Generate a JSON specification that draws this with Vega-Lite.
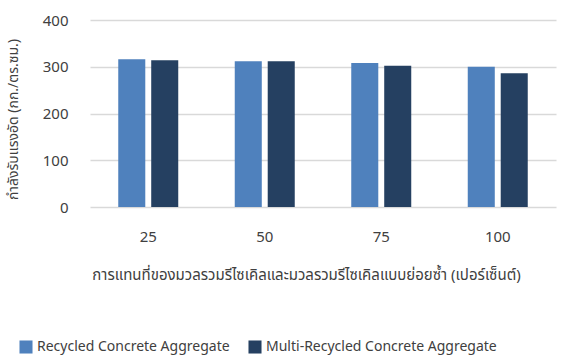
{
  "$schema": "https://vega.github.io/schema/vega-lite/v6.json",
  "width": 466,
  "height": 187,
  "autosize": {"type": "none"},
  "padding": {"left": 90, "top": 20, "right": 9, "bottom": 149},
  "background": "white",
  "config": {
    "view": {"stroke": null},
    "font": "Noto Sans, Noto Sans Thai, sans-serif"
  },
  "data": {
    "values": [
      {"replacement": "25", "series": "Recycled Concrete Aggregate", "strength": 316},
      {"replacement": "25", "series": "Multi-Recycled Concrete Aggregate", "strength": 314},
      {"replacement": "50", "series": "Recycled Concrete Aggregate", "strength": 312},
      {"replacement": "50", "series": "Multi-Recycled Concrete Aggregate", "strength": 312},
      {"replacement": "75", "series": "Recycled Concrete Aggregate", "strength": 308},
      {"replacement": "75", "series": "Multi-Recycled Concrete Aggregate", "strength": 302},
      {"replacement": "100", "series": "Recycled Concrete Aggregate", "strength": 300},
      {"replacement": "100", "series": "Multi-Recycled Concrete Aggregate", "strength": 286}
    ]
  },
  "mark": {"type": "bar"},
  "encoding": {
    "x": {
      "field": "replacement",
      "type": "ordinal",
      "sort": ["25", "50", "75", "100"],
      "scale": {"paddingInner": 0.485, "paddingOuter": 0.2425},
      "axis": {
        "title": "การแทนที่ของมวลรวมรีไซเคิลและมวลรวมรีไซเคิลแบบย่อยซ้ำ (เปอร์เซ็นต์)",
        "titleFontSize": 15,
        "titleFontWeight": "normal",
        "titleColor": "#404040",
        "titlePadding": 23,
        "titleX": 216,
        "labelAngle": 0,
        "labelFontSize": 15,
        "labelColor": "#404040",
        "labelPadding": 22,
        "ticks": false,
        "domain": false,
        "grid": false
      }
    },
    "xOffset": {
      "field": "series",
      "type": "nominal",
      "sort": ["Recycled Concrete Aggregate", "Multi-Recycled Concrete Aggregate"],
      "scale": {"paddingInner": 0.18, "paddingOuter": 0}
    },
    "y": {
      "field": "strength",
      "type": "quantitative",
      "scale": {"domain": [0, 400]},
      "axis": {
        "title": "กำลังรับแรงอัด (กก./ตร.ซม.)",
        "titleFontSize": 14,
        "titleFontWeight": "normal",
        "titleColor": "#404040",
        "titlePadding": 22,
        "titleY": 99,
        "values": [0, 100, 200, 300, 400],
        "labelFontSize": 15,
        "labelColor": "#404040",
        "labelPadding": 22,
        "ticks": false,
        "domain": false,
        "gridColor": "#d9d9d9",
        "gridWidth": 1.5
      }
    },
    "color": {
      "field": "series",
      "type": "nominal",
      "sort": ["Recycled Concrete Aggregate", "Multi-Recycled Concrete Aggregate"],
      "scale": {"range": ["#4f81bd", "#254061"]},
      "legend": {
        "title": null,
        "orient": "none",
        "direction": "horizontal",
        "legendX": -71,
        "legendY": 320,
        "symbolType": "square",
        "symbolSize": 170,
        "symbolStrokeWidth": 0,
        "labelFontSize": 14,
        "labelColor": "#404040",
        "columnPadding": 18,
        "labelLimit": 300
      }
    }
  }
}
